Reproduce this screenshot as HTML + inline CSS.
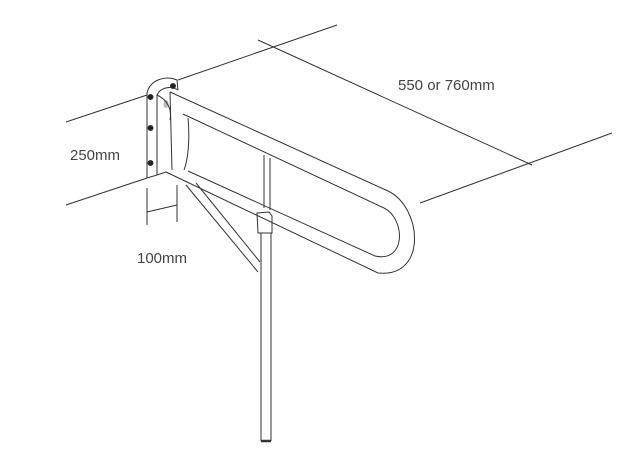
<!DOCTYPE html>
<html><head><style>
html,body{margin:0;padding:0;background:#fff;width:630px;height:452px;overflow:hidden}
text{font-family:"Liberation Sans",sans-serif;font-size:15px;font-weight:normal;fill:#444;stroke:none}
</style></head><body>
<svg width="630" height="452" viewBox="0 0 630 452" xmlns="http://www.w3.org/2000/svg" fill="none" stroke="#333" stroke-width="1">
<line x1="66" y1="122" x2="147" y2="95"/>
<line x1="178" y1="80" x2="337" y2="25"/>
<line x1="66" y1="205" x2="147" y2="178"/>
<line x1="258" y1="40" x2="532" y2="165"/>
<line x1="420" y1="203" x2="612" y2="133"/>
<path d="M147,178 L147,93 C150,80 165,75 177,80 L178,90"/>
<path d="M157,175 L157,95 C160,88 170,85 178,90"/>
<line x1="147" y1="178" x2="157" y2="175"/>
<circle cx="150.5" cy="97" r="2.5" fill="#222"/>
<circle cx="150.5" cy="128" r="2.5" fill="#222"/>
<circle cx="150.5" cy="163" r="2.5" fill="#222"/>
<circle cx="173" cy="86" r="2.5" fill="#222"/>
<ellipse cx="166" cy="104" rx="2.5" ry="4" fill="#bbb" stroke="none"/>
<path d="M170,92 L388,191 C422,207 428,278 378,273 L166,172"/>
<path d="M183,114 L384,208 C405,218 407,263 375,256 L188,171"/>
<path d="M157,175 L166,172 M157,95 C168,100 172,110 170,120"/>
<path d="M170,92 L172,170 M188,118 C190,140 188,160 184,170"/>
<path d="M186,185 L258,272 M196,183 L260,262"/>
<path d="M264,155 L264,208 M270,158 L270,210"/>
<path d="M257,213 L269,212 L272,216 L272,233 L258,233 Z"/>
<path d="M261,233 L261,441 M271,233 L271,441"/>
<line x1="261" y1="441" x2="271" y2="441" stroke-width="2.5"/>
<line x1="147" y1="188" x2="147" y2="225"/>
<line x1="177" y1="185" x2="177" y2="222"/>
<line x1="147" y1="212" x2="177" y2="205"/>
<text x="137" y="263">100mm</text>
<text x="70" y="160">250mm</text>
<text x="398" y="90">550 or 760mm</text>
</svg>
</body></html>
